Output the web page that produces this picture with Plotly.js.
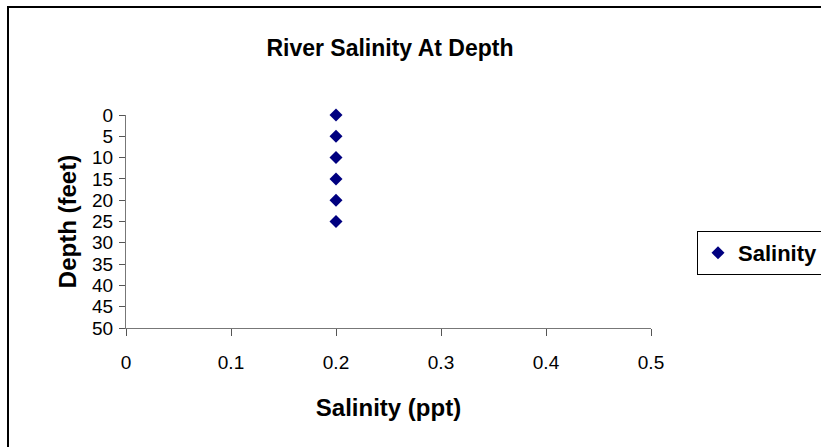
<!DOCTYPE html>
<html>
<head>
<meta charset="utf-8">
<script src="https://cdn.plot.ly/plotly-3.0.1.min.js"></script>
<style>html,body{margin:0;padding:0;background:#fff;}#chart{width:821px;height:447px;}</style>
</head>
<body>
<div id="chart"></div>
<script>
const seriesName = "Salinity";
const salinity = [0.2, 0.2, 0.2, 0.2, 0.2, 0.2];
const depth = [0, 5, 10, 15, 20, 25];
const xTicks = [0, 0.1, 0.2, 0.3, 0.4, 0.5];
const yTicks = [0, 5, 10, 15, 20, 25, 30, 35, 40, 45, 50];

const F = "Liberation Sans, Arial, sans-serif";
const L = 126, R = 651, T = 115, B = 328, W = 821, H = 447;
const px = v => (v - L) / (R - L);
const py = v => (B - v) / (B - T);

const trace = {
  x: salinity, y: depth, type: 'scatter', mode: 'markers', name: '<b>' + seriesName + '</b>',
  cliponaxis: false,
  marker: {symbol: 'diamond', color: '#000080', size: 10, line: {width: 0}}
};

const layout = {
  width: W, height: H,
  margin: {l: L, r: W - R, t: T, b: H - B, pad: 0, autoexpand: false},
  paper_bgcolor: '#fff', plot_bgcolor: '#fff',
  font: {family: F, color: '#000'},
  title: {text: '<b>River Salinity At Depth</b>', font: {family: F, size: 23, color: '#000'},
          x: 0.475, xanchor: 'center', y: 1 - 48/H, yanchor: 'middle'},
  xaxis: {
    range: [0, 0.5], tickvals: xTicks, ticktext: xTicks.map(String),
    showgrid: false, zeroline: false, showline: true, linecolor: '#777', linewidth: 1,
    ticks: 'outside', ticklen: 7, tickcolor: '#555', tickwidth: 1,
    ticklabelstandoff: 10,
    tickfont: {family: F, size: 19, color: '#000'},
    title: {text: '<b>Salinity (ppt)</b>', font: {family: F, size: 24, color: '#000'}, standoff: 27}
  },
  yaxis: {
    range: [50, 0], tickvals: yTicks, ticktext: yTicks.map(String),
    showgrid: false, zeroline: false, showline: true, linecolor: '#777', linewidth: 1,
    ticks: 'outside', ticklen: 6, tickcolor: '#555', tickwidth: 1,
    ticklabelstandoff: 2,
    tickfont: {family: F, size: 19, color: '#000'},
    title: {text: '<b>Depth (feet)</b>', font: {family: F, size: 24, color: '#000'}, standoff: 8}
  },
  showlegend: true,
  legend: {
    xref: 'container', yref: 'container',
    x: 697 / W, xanchor: 'left', y: 1 - 231 / H, yanchor: 'top',
    bordercolor: '#000', borderwidth: 1, bgcolor: '#fff',
    font: {family: F, size: 22, color: '#000'}, itemwidth: 30
  },
  shapes: [
    {type: 'rect', xref: 'paper', yref: 'paper', x0: px(8), x1: px(840), y0: py(470), y1: py(7),
     line: {color: '#000', width: 2}, fillcolor: 'rgba(0,0,0,0)', layer: 'below'}
  ]
};

Plotly.newPlot('chart', [trace], layout, {displayModeBar: false, staticPlot: true});
</script>
</body>
</html>
